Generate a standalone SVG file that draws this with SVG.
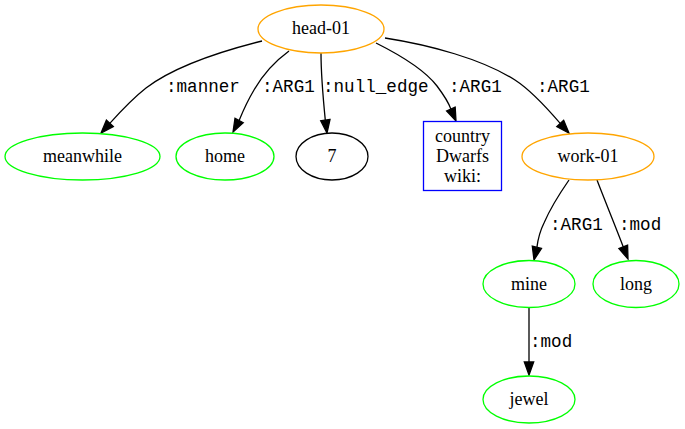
<svg xmlns="http://www.w3.org/2000/svg" width="685" height="429" viewBox="0 0 685 429">
<style>
.n{fill:#fff;stroke-width:1.3}
.o{stroke:#ffa500}.g{stroke:#00ff00}.b{stroke:#0000ff}.k{stroke:#000}
.t{font-family:"Liberation Serif","Times New Roman",serif;font-size:18px;text-anchor:middle;fill:#000}
.e path{fill:none;stroke:#000;stroke-width:1.3}
.e polygon{fill:#000;stroke:#000;stroke-width:1.3}
.l{font-family:"Liberation Mono","Courier New",monospace;font-size:17.6px;fill:#000}
</style>
<rect width="685" height="429" fill="#fff"/>
<g id="edges" class="e">
<path d="M262,41 C222,51 175,66 146,88 C132,99 120,112 109.8,123.4"/>
<polygon points="113.3,126.6 106.4,120.2 101,133"/>
<text class="l" x="166" y="92">:manner</text>
<path d="M289,51 C274,62 262,76 254,90 C248,100 243,111 239.1,120.5"/>
<polygon points="243.3,122.7 235,118.3 233,132"/>
<text class="l" x="262" y="92">:ARG1</text>
<path d="M321,53 C321,72 323,97 325.3,120.1"/>
<polygon points="330,119.5 320.7,120.7 327,133"/>
<text class="l" x="323" y="92">:null_edge</text>
<path d="M376,43 C400,55 424,69 437,86 C443,94 448,101 450.9,109.1"/>
<polygon points="455.2,107.2 446.6,111 456,121"/>
<text class="l" x="449" y="92">:ARG1</text>
<path d="M385,38 C430,45 482,59 515,80 C532,91 547,108 560.2,123.4"/>
<polygon points="563.7,120.3 556.8,126.6 569,133"/>
<text class="l" x="537" y="92">:ARG1</text>
<path d="M569,180 C560,193 550,209 544,223 C540,231 538,239 536.9,247.3"/>
<polygon points="541.5,248.4 532.3,246.2 534,260"/>
<text class="l" x="550" y="230">:ARG1</text>
<path d="M597,180 C605,201 615,225 623.3,246.9"/>
<polygon points="627.6,245.2 618.9,248.6 628,259"/>
<text class="l" x="619" y="230">:mod</text>
<path d="M529,308 L529,362"/>
<polygon points="533.7,362 524.3,362 529,375"/>
<text class="l" x="530" y="347">:mod</text>
</g>
<g id="head-01"><ellipse class="n o" cx="321" cy="29" rx="63" ry="24"/><text class="t" x="321" y="34">head-01</text></g>
<g id="meanwhile"><ellipse class="n g" cx="82.5" cy="156.5" rx="77.5" ry="23.5"/><text class="t" x="82.5" y="162">meanwhile</text></g>
<g id="home"><ellipse class="n g" cx="225" cy="156.5" rx="49" ry="23.5"/><text class="t" x="225" y="162">home</text></g>
<g id="n7"><ellipse class="n k" cx="332" cy="156.5" rx="36" ry="23.5"/><text class="t" x="332" y="162">7</text></g>
<g id="country"><rect class="n b" x="423.5" y="121.5" width="78" height="69"/><text class="t" x="462.5" y="142">country</text><text class="t" x="462.5" y="162">Dwarfs</text><text class="t" x="462.5" y="182">wiki:</text></g>
<g id="work-01"><ellipse class="n o" cx="588" cy="156.5" rx="66" ry="23.5"/><text class="t" x="588" y="162">work-01</text></g>
<g id="mine"><ellipse class="n g" cx="529" cy="284" rx="46" ry="23.5"/><text class="t" x="529" y="289.5">mine</text></g>
<g id="long"><ellipse class="n g" cx="636" cy="284" rx="43" ry="23.5"/><text class="t" x="636" y="289.5">long</text></g>
<g id="jewel"><ellipse class="n g" cx="529" cy="399.5" rx="46" ry="23.5"/><text class="t" x="529" y="405">jewel</text></g>
</svg>
